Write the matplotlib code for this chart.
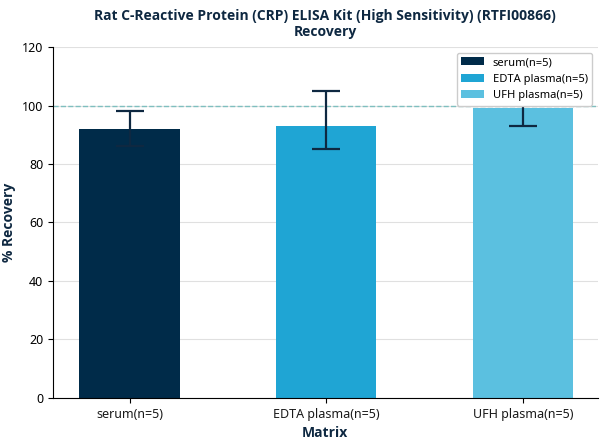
import matplotlib
matplotlib.use("Agg")
import matplotlib.pyplot as plt

plt.rcParams['font.family'] = ['Noto Sans', 'DejaVu Sans']

categories = ["serum(n=5)", "EDTA plasma(n=5)", "UFH plasma(n=5)"]
means = [92, 93, 99]
err_low = [6, 8, 6]
err_high = [6, 12, 6]
colors = ["#002b49", "#1fa5d4", "#5bc0e0"]
yticks = [0, 20, 40, 60, 80, 100, 120]

bold = dict(fontweight="bold", color="#0e2841", family=["Open Sans", "DejaVu Sans"])

fig = plt.figure(figsize=(6.08, 4.44), dpi=100)
ax = fig.add_axes([0.087, 0.104, 0.896, 0.79])

x = range(len(categories))
ax.bar(x, means, width=0.51, color=colors, label=categories, zorder=2)
ax.errorbar(x, means, yerr=[err_low, err_high], fmt='none', ecolor="#0e2841",
            elinewidth=1.6, capsize=10, capthick=1.6, zorder=3)
ax.axhline(100, color="#7fbfbf", linestyle="--", linewidth=1, zorder=1)

ax.set_xticks(list(x))
ax.set_xticklabels(categories, fontsize=9, color="#1a1a1a")
ax.set_yticks(yticks)
ax.tick_params(axis='y', labelsize=9)
ax.set_ylim(0, 120)
ax.set_xlim(-0.39, 2.38)
ax.grid(axis='y', color="#e0e0e0", linewidth=0.8, zorder=0)
ax.set_axisbelow(True)
for s in ["top", "right"]:
    ax.spines[s].set_visible(False)

ax.set_xlabel("Matrix", fontsize=10, **bold)
ax.set_ylabel("% Recovery", fontsize=10, **bold)
ax.set_title("Rat C-Reactive Protein (CRP) ELISA Kit (High Sensitivity) (RTFI00866)\nRecovery",
             fontsize=10, pad=8, **bold)

leg = ax.legend(loc="upper right", fontsize=8, framealpha=1, edgecolor="#cccccc")
leg.set_zorder(5)

fig.savefig("out.png", dpi=100)
